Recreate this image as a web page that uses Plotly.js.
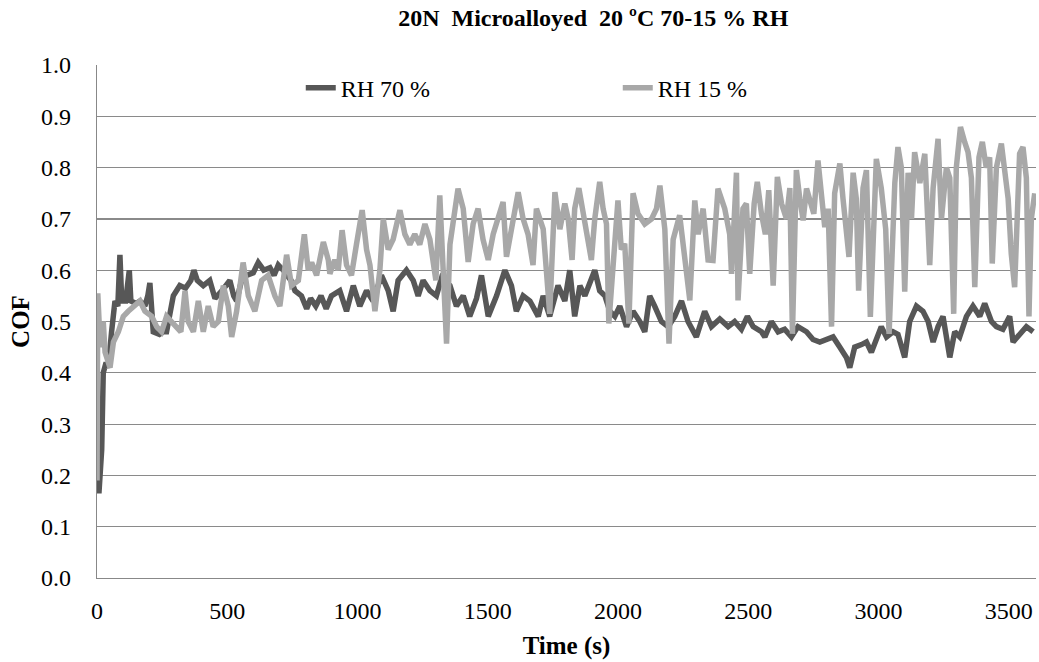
<!DOCTYPE html>
<html>
<head>
<meta charset="utf-8">
<script src="https://cdn.plot.ly/plotly-3.0.1.min.js"></script>
<style>html,body{margin:0;padding:0;background:#fff;}#chart{width:1039px;height:662px;}</style>
</head>
<body>
<div id="chart"></div>
<script>
// RH 70 % series (time s, COF)
const t70 = [0,8,18,24,35,43,56,69,80,88,95,110,124,130,150,165,184,195,203,210,216,240,255,267,280,293,318,340,360,372,385,408,433,453,480,510,525,536,555,574,600,619,640,664,680,696,715,728,745,760,785,805,820,840,860,880,900,
932,958,984,1009,1035,1060,1092,1118,1137,1156,1188,1214,1233,1252,1278,1303,1323,1355,1380,1406,1431,1457,1476,1502,1534,1566,1591,1610,1636,1662,1694,1713,1738,1770,1796,
1815,1834,1854,1873,1892,1911,1930,1950,1969,1988,2007,2033,2058,2084,2103,2122,2141,2167,2193,2218,2244,2269,2301,2333,2359,2391,2423,2448,2474,2497,2519,2551,2564,2589,2615,2640,2666,2691,
2724,2749,2775,2800,2826,2852,2877,2890,2909,2935,2954,2973,2992,3011,3031,3056,3075,3101,3120,3146,3171,3191,3210,3229,3248,3274,3293,3312,3338,3363,3389,3408,3434,3453,3478,3504,3517,3542,3568,3594];
const cof70 = [0.17,0.17,0.25,0.40,0.42,0.41,0.48,0.54,0.53,0.63,0.54,0.54,0.60,0.54,0.535,0.54,0.53,0.55,0.575,0.50,0.48,0.475,0.48,0.48,0.52,0.55,0.57,0.565,0.58,0.60,0.58,0.57,0.58,0.545,0.56,0.58,0.55,0.54,0.58,0.59,0.595,0.615,0.60,0.605,0.59,0.61,0.60,0.59,0.58,0.56,0.55,0.525,0.545,0.53,0.55,0.525,0.55,
0.56,0.52,0.57,0.53,0.56,0.54,0.59,0.56,0.52,0.58,0.60,0.58,0.55,0.58,0.56,0.55,0.585,0.57,0.53,0.55,0.51,0.545,0.59,0.51,0.55,0.60,0.57,0.52,0.55,0.54,0.51,0.55,0.51,0.57,0.54,
0.60,0.51,0.57,0.55,0.575,0.60,0.56,0.55,0.52,0.51,0.53,0.49,0.52,0.50,0.48,0.55,0.53,0.50,0.49,0.51,0.54,0.50,0.47,0.52,0.49,0.505,0.49,0.50,0.485,0.51,0.49,0.48,0.47,0.50,0.48,0.485,0.47,0.49,
0.48,0.465,0.46,0.465,0.47,0.45,0.43,0.41,0.45,0.455,0.46,0.44,0.465,0.49,0.47,0.48,0.475,0.43,0.50,0.53,0.52,0.50,0.46,0.49,0.51,0.43,0.48,0.47,0.51,0.53,0.51,0.535,0.50,0.49,0.485,0.51,0.46,0.475,0.49,0.48];

// RH 15 % series (time s, COF)
const t15 = [0,3,8,15,24,31,50,63,82,101,120,146,165,184,210,229,248,267,287,306,322,338,350,370,389,408,427,446,466,485,504,517,536,561,581,606,632,657,683,702,728,747,773,796,811,824,843,869,888,
894,913,926,941,958,977,996,1018,1035,1048,1067,1086,1099,1118,1137,1163,1182,1201,1220,1239,1259,1278,1301,1316,1329,1342,1355,1370,1386,1406,1425,1444,1463,1482,1502,1521,1540,1559,1572,1591,1617,1636,1655,1674,1687,1713,1738,1758,1777,
1796,1809,1824,1834,1850,1866,1879,1898,1911,1930,1943,1956,1965,1981,2000,2013,2026,2042,2058,2077,2103,2129,2148,2161,2180,2196,2212,2237,2257,2276,2295,2308,2327,2346,2365,2384,2410,2429,2436,2455,2461,2480,2493,2506,2523,2535,2551,2566,2579,2596,2612,2628,2647,2660,2670,2685,
2698,2711,2724,2743,2752,2768,2781,2794,2807,2820,2832,2852,2864,2887,2903,2915,2924,2941,2954,2969,2992,3011,3028,3041,3063,3075,3088,3101,3114,3127,3139,3159,3178,3197,3210,3229,3242,3261,3274,3289,3299,3315,3331,3344,3357,3370,3386,3399,3414,3427,3437,3453,3472,3485,3498,3510,3523,3542,3555,3568,3578,3587,3600];
const cof15 = [0.19,0.555,0.50,0.45,0.50,0.44,0.41,0.46,0.48,0.51,0.52,0.53,0.54,0.52,0.51,0.49,0.48,0.51,0.50,0.49,0.48,0.56,0.50,0.48,0.54,0.48,0.53,0.49,0.50,0.57,0.53,0.47,0.52,0.615,0.55,0.52,0.58,0.59,0.55,0.53,0.63,0.57,0.58,0.67,0.60,0.615,0.59,0.655,0.62,
0.593,0.62,0.60,0.678,0.61,0.59,0.65,0.717,0.64,0.61,0.52,0.60,0.70,0.64,0.66,0.717,0.67,0.65,0.67,0.65,0.69,0.66,0.58,0.746,0.60,0.457,0.65,0.70,0.759,0.72,0.616,0.69,0.72,0.66,0.62,0.67,0.70,0.733,0.626,0.68,0.752,0.70,0.67,0.61,0.72,0.68,0.515,0.752,0.68,
0.73,0.70,0.62,0.72,0.76,0.71,0.68,0.62,0.70,0.772,0.72,0.69,0.496,0.62,0.736,0.64,0.652,0.496,0.75,0.71,0.69,0.70,0.72,0.765,0.68,0.457,0.66,0.707,0.63,0.541,0.736,0.67,0.72,0.62,0.619,0.759,0.72,0.67,0.593,0.79,0.541,0.72,0.73,0.593,0.73,0.772,0.71,0.67,0.756,0.57,0.782,0.73,0.70,0.76,0.476,0.795,
0.74,0.697,0.759,0.72,0.71,0.814,0.76,0.684,0.72,0.49,0.75,0.808,0.74,0.626,0.79,0.74,0.56,0.76,0.795,0.509,0.817,0.76,0.68,0.476,0.77,0.84,0.80,0.558,0.79,0.70,0.83,0.77,0.827,0.61,0.76,0.856,0.70,0.80,0.78,0.515,0.80,0.879,0.85,0.83,0.78,0.567,0.82,0.85,0.80,0.82,0.613,0.80,0.847,0.78,0.74,0.632,0.567,0.827,0.84,0.78,0.51,0.70,0.75];

const seriesNames = ['RH 70 %', 'RH 15 %'];
const titleText = '20N\u00a0\u00a0Microalloyed\u00a0\u00a020 \u00baC 70-15 % RH';
const xTicks = [0,500,1000,1500,2000,2500,3000,3500];
const yTicks = [0,0.1,0.2,0.3,0.4,0.5,0.6,0.7,0.8,0.9,1.0];

const FONT = 'Liberation Serif';

const traces = [
  {x: t70, y: cof70, name: seriesNames[0], type: 'scatter', mode: 'lines',
   line: {color: '#575757', width: 5.5, shape: 'linear'}},
  {x: t15, y: cof15, name: seriesNames[1], type: 'scatter', mode: 'lines',
   line: {color: '#a8a8a8', width: 5.5, shape: 'linear'}}
];

const layout = {
  width: 1039, height: 662,
  margin: {l: 97, r: 3, t: 65, b: 84},
  paper_bgcolor: '#ffffff', plot_bgcolor: '#ffffff',
  font: {family: FONT, color: '#000', size: 24},
  title: {text: titleText, font: {family: FONT, size: 24, color: '#000', weight: 'bold'},
          x: 0.571, xanchor: 'center', y: 0.973, yanchor: 'middle'},
  showlegend: true,
  legend: {orientation: 'h', x: 0.217, xanchor: 'left', y: 0.955, yanchor: 'middle',
           bgcolor: 'rgba(0,0,0,0)', font: {family: FONT, size: 24, color: '#000'},
           entrywidth: 272, entrywidthmode: 'pixels', itemwidth: 30, tracegroupgap: 0},
  xaxis: {range: [0, 3605], tickvals: xTicks, ticktext: xTicks.map(String),
          showgrid: false, zeroline: false, showline: true, linecolor: '#888', linewidth: 1.3,
          ticks: '', ticklabelstandoff: 11, tickfont: {family: FONT, size: 24, color: '#000'},
          title: {text: 'Time (s)', font: {family: FONT, size: 25, color: '#000', weight: 'bold'}, standoff: 13}},
  yaxis: {range: [0, 1.0], tickvals: yTicks, ticktext: yTicks.map(v => v.toFixed(1)),
          showgrid: true, gridcolor: '#8a8a8a', gridwidth: 1.2, zeroline: false,
          showline: true, linecolor: '#888', linewidth: 1.3,
          ticks: '', ticklabelstandoff: 20, tickfont: {family: FONT, size: 24, color: '#000'},
          title: {text: 'COF', font: {family: FONT, size: 25, color: '#000', weight: 'bold'}, standoff: 4}}
};

Plotly.newPlot('chart', traces, layout, {displayModeBar: false, staticPlot: true});
</script>
</body>
</html>
